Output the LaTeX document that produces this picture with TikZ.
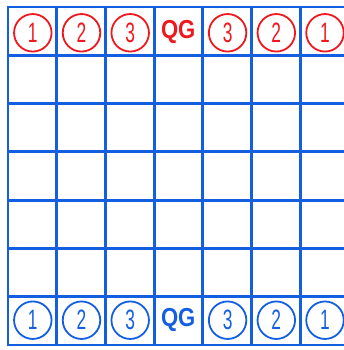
\documentclass[tikz,border=0pt]{standalone}
\usepackage{fontspec}
\setmainfont{Liberation Sans}
\usepackage{graphicx}
\usetikzlibrary{positioning}

\definecolor{boardblue}{RGB}{20,95,225}
\definecolor{piecered}{RGB}{238,25,30}
\newcommand{\narrowdigit}[1]{\scalebox{0.62}[1]{#1}}

\begin{document}
\begin{tikzpicture}[
    x=1pt, y=-1pt,
    gridline/.style={draw=boardblue, line width=2.8pt, line cap=rect},
    piece/.style={
        draw, circle, line width=1.8pt, minimum size=37.5pt, inner sep=0pt,
        font=\fontsize{28}{28}\selectfont
    },
    redpiece/.style={piece, draw=piecered, text=piecered},
    bluepiece/.style={piece, draw=boardblue, text=boardblue},
    queen/.style={inner sep=0pt, font=\bfseries\fontsize{26}{26}\selectfont}
]

\useasboundingbox (0,0) rectangle (344,350);
\clip (0,0) rectangle (344,350);

% ==========================================
% BOARD
% ==========================================

\foreach \i in {0,...,6}
    \draw[gridline] ({8+48.7*\i},7) -- ({8+48.7*\i},345);
\foreach \j in {0,...,7}
    \draw[gridline] (8,{7+48.29*\j}) -- (352,{7+48.29*\j});

% ==========================================
% RED SIDE (top row)
% ==========================================

\foreach \n/\col in {1/0, 2/1, 3/2, 3/4, 2/5, 1/6}
    \node[redpiece] (red\col) at ({32.8+48.7*\col}, 32.8) {\narrowdigit{\n}};
\node[queen, text=piecered] (red3) at (178.2, 31.6) {\scalebox{0.85}[1]{QG}};

% ==========================================
% BLUE SIDE (bottom row)
% ==========================================

\foreach \n/\col in {1/0, 2/1, 3/2, 3/4, 2/5, 1/6}
    \node[bluepiece] (blue\col) at ({32.8+48.7*\col}, 320.2) {\narrowdigit{\n}};
\node[queen, text=boardblue] (blue3) at (178.2, 320.2) {\scalebox{0.85}[1]{QG}};

\end{tikzpicture}
\end{document}
